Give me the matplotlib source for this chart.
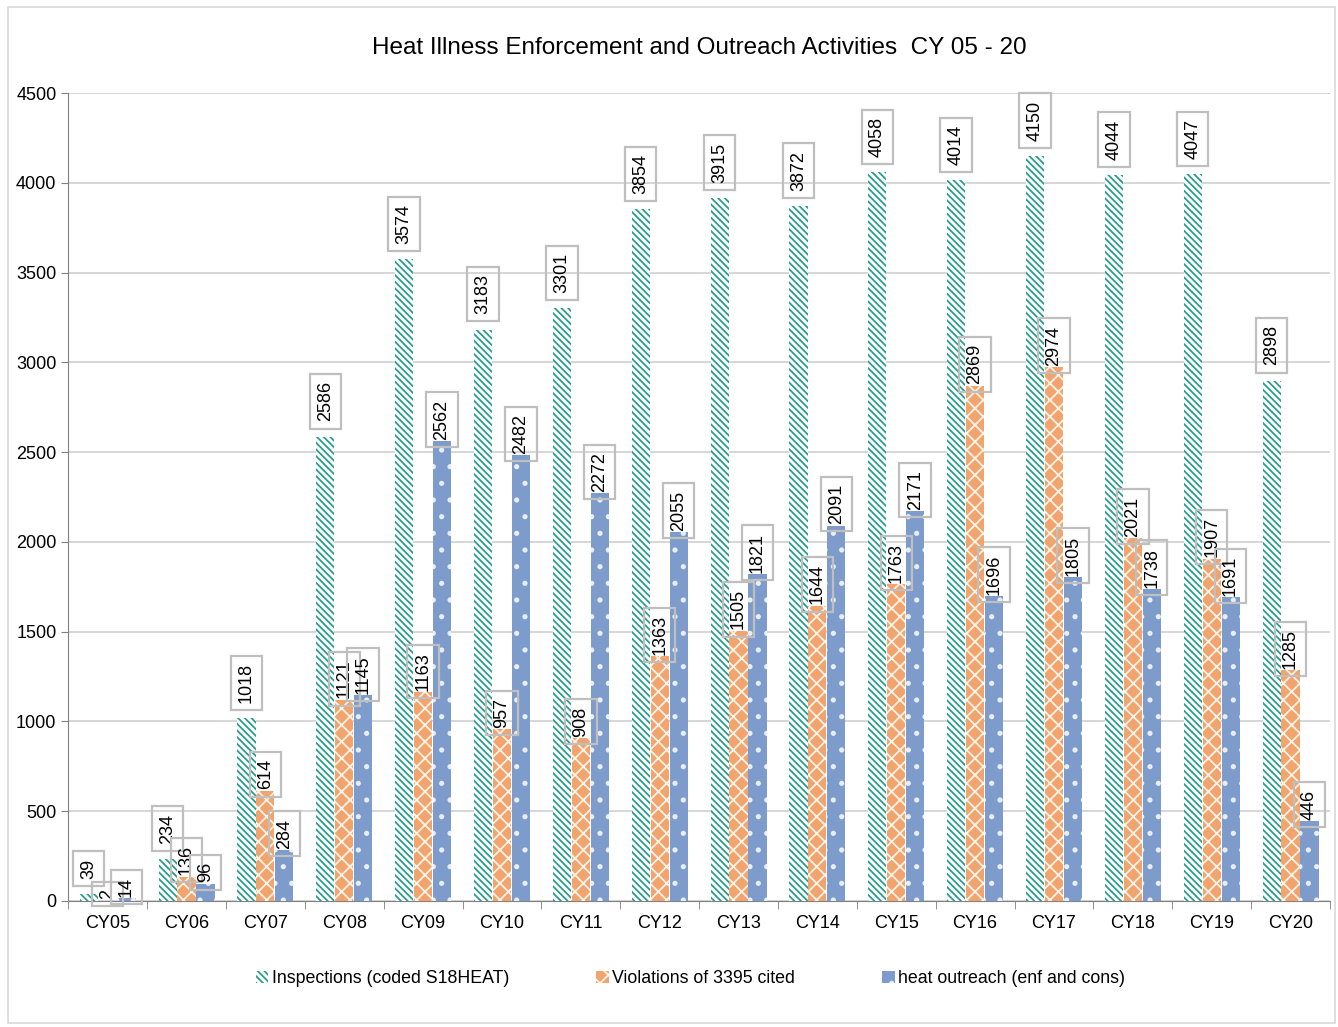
import numpy as np
import matplotlib
matplotlib.use("Agg")
import matplotlib.pyplot as plt

plt.rcParams['font.family'] = ['Liberation Sans', 'DejaVu Sans']
plt.rcParams['hatch.linewidth'] = 1.3

# -------------------------------
# Data
# -------------------------------
years = ['CY05', 'CY06', 'CY07', 'CY08', 'CY09', 'CY10', 'CY11', 'CY12',
         'CY13', 'CY14', 'CY15', 'CY16', 'CY17', 'CY18', 'CY19', 'CY20']
inspections = [39, 234, 1018, 2586, 3574, 3183, 3301, 3854, 3915, 3872, 4058, 4014, 4150, 4044, 4047, 2898]
violations = [2, 136, 614, 1121, 1163, 957, 908, 1363, 1505, 1644, 1763, 2869, 2974, 2021, 1907, 1285]
outreach = [14, 96, 284, 1145, 2562, 2482, 2272, 2055, 1821, 2091, 2171, 1696, 1805, 1738, 1691, 446]

series_names = ['Inspections (coded S18HEAT)', 'Violations of 3395 cited', 'heat outreach (enf and cons)']

fig = plt.figure(figsize=(13.38, 10.27), dpi=100)
ax = fig.add_axes([0.051, 0.1227, 0.943, 0.7867])

x = np.arange(len(years))
w = 0.23

ax.bar(x - 0.24, inspections, w, color='white', edgecolor='#2A9D8F', hatch='\\\\\\\\\\', linewidth=0,
       label=series_names[0], zorder=3)
ax.bar(x, violations, w, color='#F2A46E', edgecolor='#FFF3E8', hatch='xx', linewidth=0,
       label=series_names[1], zorder=3)
ax.bar(x + 0.24, outreach, w, color='#7E9CCB', edgecolor='#E8EEF8', hatch='.', linewidth=0,
       label=series_names[2], zorder=3)

box = dict(boxstyle='square,pad=0.4', fc='none', ec='#BFBFBF', lw=1.6)

def label_bars(xs, vals, off):
    for xi, v in zip(xs, vals):
        ax.annotate(str(v), (xi, v), xytext=(0, off), textcoords='offset points',
                    rotation=90, ha='center', va='bottom', fontsize=13, bbox=box, zorder=5)

label_bars(x - 0.24, inspections, 11)
label_bars(x, violations, 1)
label_bars(x + 0.24, outreach, 1)

ax.set_xlim(-0.5, len(years) - 0.5)
ax.set_ylim(0, 4500)
ax.set_yticks(np.arange(0, 4501, 500))
ax.set_xticks(x)
ax.set_xticklabels(years)
ax.set_xticks(np.arange(-0.5, len(years), 1), minor=True)
ax.tick_params(axis='x', which='major', length=0, labelsize=13, pad=10)
ax.tick_params(axis='x', which='minor', length=6, color='#808080')
ax.tick_params(axis='y', length=5, color='#808080', labelsize=13)
ax.grid(axis='y', color='#D0D0D0', linewidth=1.2, zorder=0)
for s in ['top', 'right']:
    ax.spines[s].set_visible(False)
ax.spines['left'].set_color('#808080')
ax.spines['bottom'].set_color('#808080')

ax.set_title('Heat Illness Enforcement and Outreach Activities  CY 05 - 20', fontsize=17.5, pad=28)

fig.legend(loc='center', bbox_to_anchor=(0.516, 0.047), ncol=3, frameon=False, fontsize=12.8,
           handlelength=0.7, handleheight=0.7, handletextpad=0.2, columnspacing=4.9)

# chart area border
fig.patches.append(plt.Rectangle((0.006, 0.004), 0.992, 0.989, transform=fig.transFigure,
                                 fill=False, ec='#D9D9D9', lw=1.2))

fig.savefig('out.png', dpi=100)
